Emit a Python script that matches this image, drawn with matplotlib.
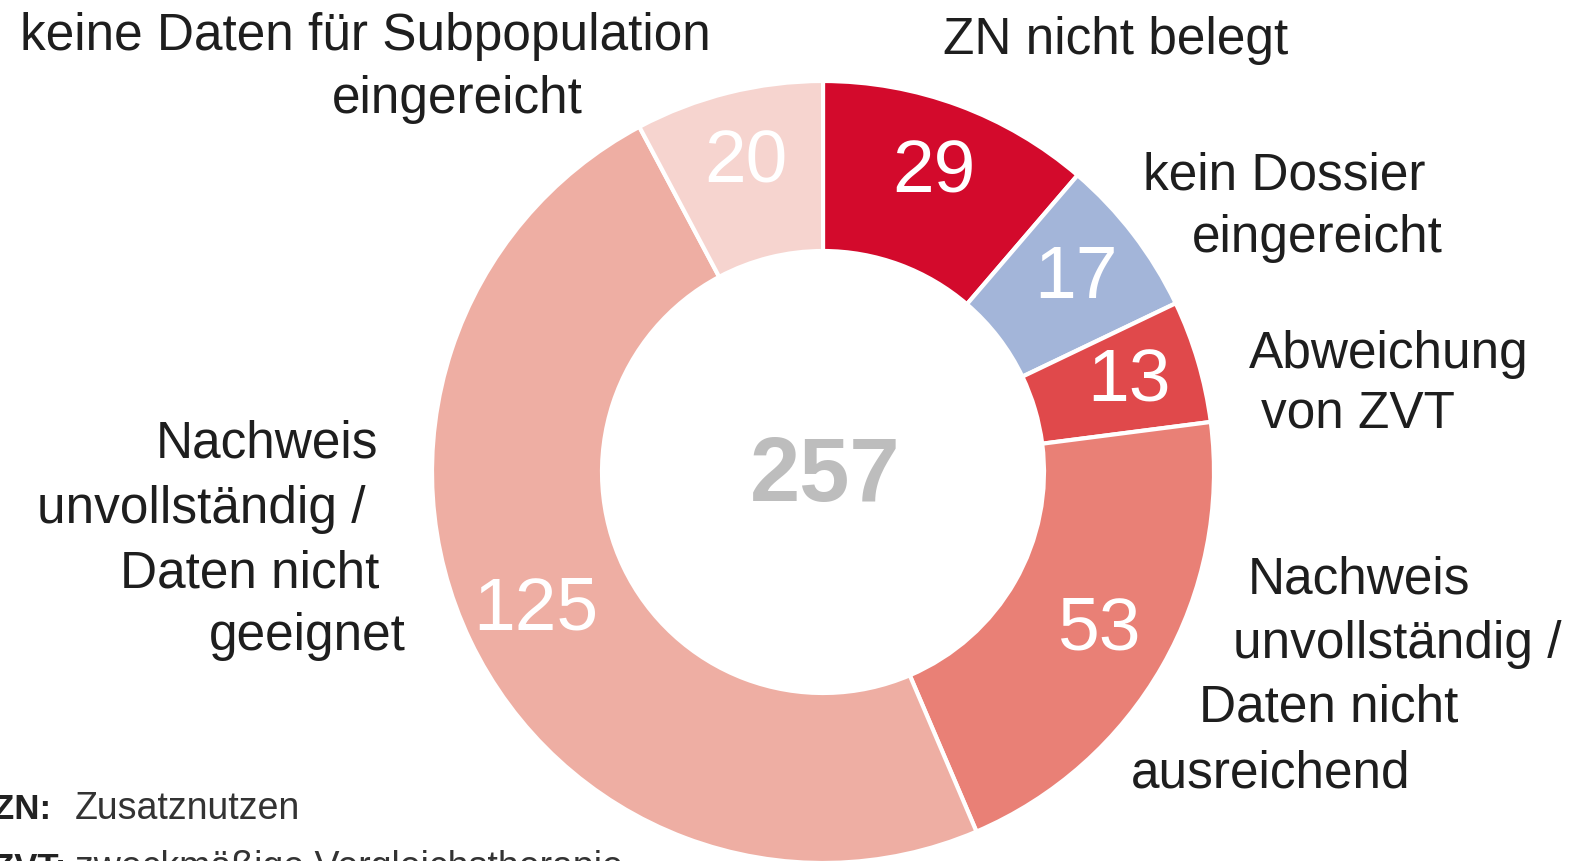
import matplotlib.pyplot as plt

# Daten
values = [29, 17, 13, 53, 125, 20]
colors = ['#D30A2C', '#A3B5D9', '#E0494B', '#E98076', '#EEAEA3', '#F6D4CF']
total = sum(values)

# Beschriftungen (eine Zeile je Eintrag)
labels = [
    ('keine Daten für Subpopulation', 365, 50),
    ('eingereicht', 457, 113),
    ('ZN nicht belegt', 1116, 54),
    ('kein Dossier', 1284, 190),
    ('eingereicht', 1317, 252),
    ('Abweichung', 1389, 368),
    ('von ZVT', 1358, 428),
    ('Nachweis', 1359, 593),
    ('unvollständig /', 1397, 658),
    ('Daten nicht', 1329, 722),
    ('ausreichend', 1271, 787),
    ('Nachweis', 267, 458),
    ('unvollständig /', 201, 523),
    ('Daten nicht', 250, 588),
    ('geeignet', 307, 650),
]
notes = [('ZN:', 'Zusatznutzen', 819), ('ZVT:', 'zweckmäßige Vergleichstherapie', 878)]

W, H = 1574, 861
plt.rcParams['font.family'] = ['Liberation Sans', 'DejaVu Sans']

fig = plt.figure(figsize=(W / 100, H / 100), dpi=100)
ax = fig.add_axes([0, 0, 1, 1])

cx, cy = 823, H - 472
ax.pie(values, colors=colors, startangle=90, counterclock=False,
       radius=391, center=(cx, cy),
       wedgeprops=dict(width=170, edgecolor='white', linewidth=3),
       autopct=lambda p: f'{round(p * total / 100)}', pctdistance=0.815,
       textprops=dict(color='white', fontsize=54))

ax.text(cx + 2, cy - 6, str(total), ha='center', va='center', fontsize=65,
        fontweight='bold', color='#BDBDBD')

for txt, x, y in labels:
    ax.text(x, H - y, txt, ha='center', va='baseline', fontsize=37, color='#1E1E1E')

for key, desc, y in notes:
    ax.text(-7, H - y, key, ha='left', va='baseline', fontsize=25,
            fontweight='bold', color='#222222')
    ax.text(75, H - y, desc, ha='left', va='baseline', fontsize=27, color='#333333')

ax.set_xlim(0, W)
ax.set_ylim(0, H)
ax.set_aspect('auto')
ax.axis('off')

fig.savefig('out.png', dpi=100, facecolor='white')
